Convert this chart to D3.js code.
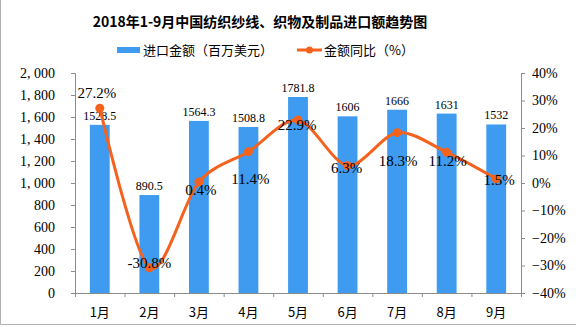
<!DOCTYPE html>
<html>
<head>
<meta charset="utf-8">
<script src="https://cdn.jsdelivr.net/npm/d3@7"></script>
<style>
  html, body { margin: 0; padding: 0; background: #fff; }
  svg { display: block; }
</style>
</head>
<body>
<script>
// Monthly textile yarn, fabric and product imports, Jan–Sep 2018
const months = ["1月", "2月", "3月", "4月", "5月", "6月", "7月", "8月", "9月"];
const importValue = [1528.5, 890.5, 1564.3, 1508.8, 1781.8, 1606, 1666, 1631, 1532];
const importLabels = ["1528.5", "890.5", "1564.3", "1508.8", "1781.8", "1606", "1666", "1631", "1532"];
const yoyGrowth = [27.2, -30.8, 0.4, 11.4, 22.9, 6.3, 18.3, 11.2, 1.5];
const leftTicks = [0, 200, 400, 600, 800, 1000, 1200, 1400, 1600, 1800, 2000];
const rightTicks = [-40, -30, -20, -10, 0, 10, 20, 30, 40];

// placement of the growth labels relative to their points [dx, dy]
const growthLabelOffset = [[-3, -15], [0, -5], [2, 8], [2, 27], [-1, 5], [-1, 2], [1, 28], [1, 9], [3, 1]];

const W = 576, H = 327;
const plot = { left: 75, right: 521, top: 73, bottom: 293 };
const barColor = "#3E9BF0";
const lineColor = "#F5621E";
const axisColor = "#8c8c8c";
const numFont = "'Liberation Serif', 'DejaVu Serif', serif";
const cjkFont = "'Noto Sans CJK SC', sans-serif";

const svg = d3.select("body").append("svg").attr("width", W).attr("height", H);

// frame
svg.append("path")
  .attr("d", `M0.5,0 V324.5 H${W}`)
  .attr("fill", "none").attr("stroke", "#b0b0b0").attr("stroke-width", 1);

const x = d3.scaleBand().domain(months).range([plot.left, plot.right]).paddingInner(0.6).paddingOuter(0.3);
const xc = d => x(d) + x.bandwidth() / 2;
const yL = d3.scaleLinear().domain([0, 2000]).range([plot.bottom, plot.top]);
const yR = d3.scaleLinear().domain([-40, 40]).range([plot.bottom, plot.top]);

// title
svg.append("text")
  .attr("x", 260).attr("y", 27)
  .attr("text-anchor", "middle")
  .style("font-family", cjkFont).style("font-weight", "bold").style("font-size", "14px")
  .attr("fill", "#000")
  .text("2018年1-9月中国纺织纱线、织物及制品进口额趋势图");

// legend
const lg = svg.append("g").style("font-family", cjkFont).style("font-size", "13px");
lg.append("rect").attr("x", 117).attr("y", 47).attr("width", 23).attr("height", 6).attr("fill", barColor);
lg.append("text").attr("x", 143).attr("y", 55).text("进口金额（百万美元）");
lg.append("line").attr("x1", 297).attr("x2", 322).attr("y1", 50).attr("y2", 50)
  .attr("stroke", lineColor).attr("stroke-width", 3);
lg.append("circle").attr("cx", 309.5).attr("cy", 50).attr("r", 3.5).attr("fill", lineColor);
lg.append("text").attr("x", 324).attr("y", 55).text("金额同比（%）");

// bars
svg.append("g").selectAll("rect").data(importValue).join("rect")
  .attr("x", (d, i) => x(months[i]))
  .attr("y", d => yL(d))
  .attr("width", x.bandwidth())
  .attr("height", d => yL(0) - yL(d))
  .attr("fill", barColor);

// left axis
const axL = svg.append("g").attr("transform", `translate(${plot.left},0)`)
  .call(d3.axisLeft(yL).tickValues(leftTicks).tickSize(4).tickPadding(15)
    .tickFormat(d => d3.format(",")(d).replace(",", ", ")));
axL.select(".domain").attr("stroke", axisColor).attr("d", `M-4,${plot.top + 0.5}H0.5V${plot.bottom + 0.5}H-4`);
axL.selectAll(".tick line").attr("stroke", axisColor);
axL.selectAll("text").style("font-family", numFont).style("font-size", "14px").attr("fill", "#000")
  .attr("dx", "-1").attr("dy", "0.35em");

// right axis
const axR = svg.append("g").attr("transform", `translate(${plot.right},0)`)
  .call(d3.axisRight(yR).tickValues(rightTicks).tickSize(4).tickPadding(7)
    .tickFormat(d => (d < 0 ? "−" + Math.abs(d) : d) + "%"));
axR.select(".domain").attr("stroke", axisColor).attr("d", `M4,${plot.top + 0.5}H0.5V${plot.bottom + 0.5}H4`);
axR.selectAll(".tick line").attr("stroke", axisColor);
axR.selectAll("text").style("font-family", numFont).style("font-size", "14px").attr("fill", "#000");

// bottom axis with ticks at category boundaries
const axB = svg.append("g").attr("transform", `translate(0,${plot.bottom})`);
axB.append("line").attr("x1", plot.left).attr("x2", plot.right).attr("y1", 0.5).attr("y2", 0.5).attr("stroke", axisColor);
const step = x.step();
const bounds = months.map(m => x(m) - x.step() * x.paddingInner() / 2 - 0).concat([plot.right]);
axB.selectAll("line.b").data(d3.range(months.length + 1)).join("line")
  .attr("class", "b")
  .attr("x1", i => plot.left + i * (plot.right - plot.left) / months.length + 0.5)
  .attr("x2", i => plot.left + i * (plot.right - plot.left) / months.length + 0.5)
  .attr("y1", 0).attr("y2", 4).attr("stroke", axisColor);
axB.selectAll("text").data(months).join("text")
  .attr("x", d => xc(d)).attr("y", 24)
  .attr("text-anchor", "middle")
  .style("font-family", cjkFont).style("font-size", "13px").attr("fill", "#000")
  .text(d => d);

// bar value labels
svg.append("g").selectAll("text").data(importValue).join("text")
  .attr("x", (d, i) => xc(months[i]))
  .attr("y", d => yL(d) - 5)
  .attr("text-anchor", "middle")
  .style("font-family", numFont).style("font-size", "12px").attr("fill", "#000")
  .text((d, i) => importLabels[i]);

// growth line
const line = d3.line()
  .x((d, i) => xc(months[i]))
  .y(d => yR(d))
  .curve(d3.curveCardinal.tension(0.1));
svg.append("path").datum(yoyGrowth)
  .attr("d", line)
  .attr("fill", "none").attr("stroke", lineColor).attr("stroke-width", 3);
svg.append("g").selectAll("circle").data(yoyGrowth).join("circle")
  .attr("cx", (d, i) => xc(months[i]))
  .attr("cy", d => yR(d))
  .attr("r", 4.5)
  .attr("fill", lineColor);

// growth labels
svg.append("g").selectAll("text").data(yoyGrowth).join("text")
  .attr("x", (d, i) => xc(months[i]) + growthLabelOffset[i][0])
  .attr("y", (d, i) => yR(d) + growthLabelOffset[i][1])
  .attr("dy", "0.35em")
  .attr("text-anchor", "middle")
  .style("font-family", numFont).style("font-size", "15px").attr("fill", "#000")
  .text(d => (d < 0 ? "-" + Math.abs(d).toFixed(1) : d.toFixed(1)) + "%");
</script>
</body>
</html>
